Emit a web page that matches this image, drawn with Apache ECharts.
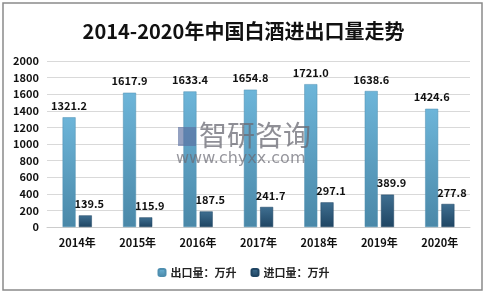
<!DOCTYPE html>
<html><head><meta charset="utf-8">
<script src="https://cdn.jsdelivr.net/npm/echarts@6/dist/echarts.min.js"></script>
<style>html,body{margin:0;padding:0;background:#fff}#c{width:487px;height:295px}</style>
</head><body><div id="c"></div>
<script>
const categories = ['2014年','2015年','2016年','2017年','2018年','2019年','2020年'];
const exportVals = [1321.2, 1617.9, 1633.4, 1654.8, 1721.0, 1638.6, 1424.6];
const importVals = [139.5, 115.9, 187.5, 241.7, 297.1, 389.9, 277.8];
const seriesNames = ['出口量：万升', '进口量：万升'];
const titleText = '2014-2020年中国白酒进出口量走势';

const font = '"Noto Sans CJK SC", "Liberation Sans", sans-serif';
const chart = echarts.init(document.getElementById('c'));
chart.setOption({
  animation: false,
  title: { text: titleText, left: 'center', top: 16,
    textStyle: { fontFamily: font, fontSize: 20, fontWeight: 'bold', color: '#111' } },
  grid: { left: 47, right: 17, top: 61, bottom: 68 },
  legend: { bottom: 12, itemWidth: 7, itemHeight: 7, itemGap: 14,
    textStyle: { fontFamily: font, fontSize: 11, fontWeight: 'bold', color: '#222' },
    data: seriesNames },
  xAxis: { type: 'category', data: categories,
    axisLine: { lineStyle: { color: '#ccc' } }, axisTick: { show: false },
    axisLabel: { fontFamily: font, fontSize: 11, fontWeight: 'bold', color: '#111', margin: 10 } },
  yAxis: { type: 'value', min: 0, max: 2000, interval: 200,
    axisLine: { show: false }, axisTick: { show: false },
    splitLine: { lineStyle: { color: '#d9d9d9' } },
    axisLabel: { fontFamily: font, fontSize: 11, fontWeight: 'bold', color: '#111', margin: 8,
      formatter: v => String(v) } },
  graphic: [
    { type: 'rect', shape: { x: 3, y: 3, width: 479, height: 287 },
      style: { fill: 'none', stroke: '#8a8a8a', lineWidth: 1.5 }, z: 100 },
    { type: 'text', left: 199, top: 121, z: 50,
      style: { text: '智研咨询', fontFamily: font, fontSize: 28, fill: 'rgba(105,105,115,0.75)' } },
    { type: 'rect', shape: { x: 178, y: 127, width: 18, height: 19 }, z: 50,
      style: { fill: 'rgba(90,110,160,0.65)' } },
    { type: 'text', left: 176, top: 151, z: 50,
      style: { text: 'www.chyxx.com', fontFamily: '"DejaVu Sans", sans-serif', fontSize: 16, fill: 'rgba(105,105,115,0.7)' } }
  ],
  series: [
    { name: seriesNames[0], type: 'bar', data: exportVals, barWidth: 13, barGap: '25%',
      itemStyle: { color: new echarts.graphic.LinearGradient(0,0,0,1,[{offset:0,color:'#6db5d9'},{offset:1,color:'#4a88a8'}]),
        borderColor: '#4f8fb0', borderWidth: 0.5 },
      label: { show: true, position: 'top', distance: 6, formatter: p => p.value.toFixed(1),
        fontFamily: font, fontSize: 11, fontWeight: 'bold', color: '#111' } },
    { name: seriesNames[1], type: 'bar', data: importVals, barWidth: 13,
      itemStyle: { color: new echarts.graphic.LinearGradient(0,0,0,1,[{offset:0,color:'#3f6f91'},{offset:1,color:'#1f4563'}]),
        borderColor: '#1f4563', borderWidth: 0.5 },
      label: { show: true, position: 'top', distance: 6, offset: [4, 0], formatter: p => p.value.toFixed(1),
        fontFamily: font, fontSize: 11, fontWeight: 'bold', color: '#111' } }
  ]
});
</script></body></html>
